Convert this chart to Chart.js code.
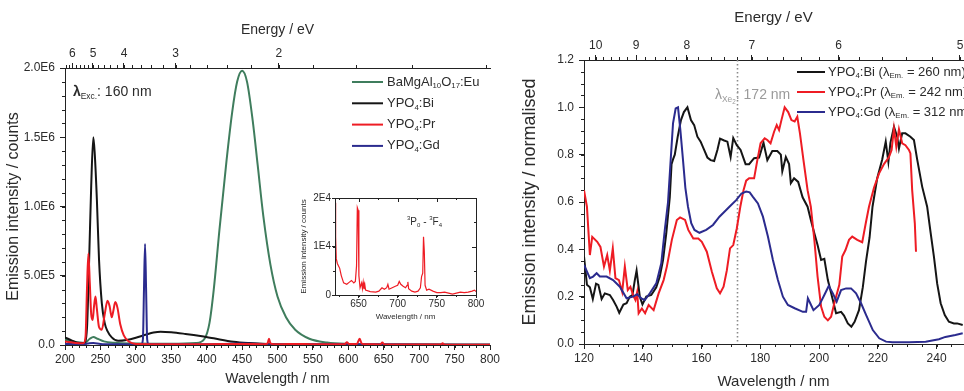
<!DOCTYPE html>
<html>
<head>
<meta charset="utf-8">
<title>YPO4 emission and excitation</title>
<script src="https://cdn.jsdelivr.net/npm/chart.js@4.4.1/dist/chart.umd.min.js"></script>
<style>
  body { margin: 0; background: #fff; }
  #wrap { position: relative; width: 964px; height: 391px; overflow: hidden; }
  canvas { position: absolute; }
</style>
</head>
<body>
<div id="wrap">
  <canvas id="emission" width="520" height="391" style="left:0;top:0"></canvas>
  <canvas id="inset" width="195" height="140" style="left:290px;top:185px"></canvas>
  <canvas id="excitation" width="469" height="391" style="left:495px;top:0"></canvas>
</div>
<script>
// photon energy (eV) <-> wavelength (nm)
const HC = 1239.84;

// ---- emission spectra, excitation at 160 nm (counts) ----
const bamWl  = [200, 215, 228, 235, 240, 246, 255, 270, 300, 350, 385, 397, 404, 410, 418, 428, 436, 443, 450, 457, 465, 472, 480, 490, 500, 512, 525, 545, 570, 600, 650, 700, 800];
const bamInt = [4.0e4, 2.0e4, 1.5e4, 4.5e4, 5.8e4, 4.5e4, 2.6e4, 1.6e4, 1.1e4, 9e3, 1.4e4, 4.5e4, 1.6e5, 4.0e5, 8.3e5, 1.33e6, 1.68e6, 1.90e6, 1.98e6, 1.90e6, 1.62e6, 1.30e6, 9.3e5, 5.8e5, 3.5e5, 2.0e5, 1.1e5, 4.5e4, 1.8e4, 8e3, 4e3, 3e3, 2e3];

const biWl  = [200, 210, 220, 227, 231, 234, 237, 240, 242, 245, 248, 252, 256, 260, 266, 275, 287, 300, 315, 325, 335, 350, 370, 391, 410, 438, 460, 485, 520, 600, 700, 800];
const biInt = [5.5e4, 3.2e4, 1.6e4, 1.5e4, 1.2e5, 6.0e5, 1.15e6, 1.50e6, 1.38e6, 1.05e6, 6.2e5, 3.0e5, 1.6e5, 1.0e5, 5.5e4, 3.0e4, 3.6e4, 5.2e4, 7.6e4, 9.0e4, 9.6e4, 9.2e4, 8.0e4, 6.5e4, 4.8e4, 2.4e4, 1.4e4, 7e3, 4e3, 2.5e3, 2e3, 1.5e3];

const prWl  = [200, 215, 226, 229, 231, 233, 235, 237, 239, 241, 243, 245, 248, 252, 256, 260, 263, 266, 268, 271, 274, 278, 283, 290, 300, 350, 400, 450, 480, 486, 488, 490, 500, 530, 550, 595, 598, 601, 612, 616, 619, 630, 645, 648, 651, 700, 731, 733, 736, 800];
const prInt = [2.5e4, 1.5e4, 1.2e4, 6e4, 4.0e5, 6.6e5, 4.5e5, 2.2e5, 1.8e5, 2.8e5, 3.5e5, 2.6e5, 1.3e5, 1.1e5, 2.2e5, 3.2e5, 2.8e5, 2.0e5, 2.4e5, 3.1e5, 2.7e5, 1.5e5, 7e4, 2.5e4, 8e3, 6e3, 6e3, 8e3, 6e3, 1.2e4, 4.5e4, 1.2e4, 5e3, 8e3, 5e3, 6e3, 2e4, 8e3, 8e3, 4.5e4, 1e4, 5e3, 4e3, 1.8e4, 4e3, 3e3, 4e3, 1.2e4, 2e3, 2e3];

const gdWl  = [200, 225, 232, 240, 250, 275, 300, 308, 310, 311.5, 313, 314.5, 316, 318, 330, 400, 450, 500, 598, 617, 800];
const gdInt = [8e3, 5e3, 1e4, 1.5e4, 8e3, 5e3, 4e3, 6e3, 4e4, 4e5, 7.3e5, 4e5, 4e4, 6e3, 5e3, 5e3, 1e4, 4e3, 8e3, 5e3, 2e3];

// YPO4:Pr, red/NIR part enlarged
const prRedWl  = [620, 620.8, 621.6, 623, 626, 628, 631, 635, 638, 641, 644, 646, 647.5, 648.5, 649.5, 650.5, 652, 654, 655, 656, 657, 658, 659, 665, 672, 676, 680, 683, 686, 687.5, 689, 693, 697, 700, 702, 704, 707, 710, 712, 713, 714, 718, 722, 726, 729, 730.5, 732, 733, 734, 735, 737, 740, 745, 750, 755, 760, 765, 770, 775, 780, 785, 790, 795, 798, 800];
const prRedInt = [1.9e4, 1.2e4, 7.5e3, 6.5e3, 5.5e3, 4e3, 2.5e3, 2.2e3, 2.6e3, 3e3, 2.5e3, 2.8e3, 6e3, 1.8e4, 1.75e4, 4e3, 1.5e3, 2.5e3, 1.3e3, 2.6e3, 1.2e3, 2.2e3, 1e3, 7e2, 6e2, 8e2, 1.5e3, 1.2e3, 1.5e3, 2.2e3, 1.2e3, 1.5e3, 1.8e3, 2e3, 2.8e3, 2.2e3, 1.8e3, 1.5e3, 2e3, 2.7e3, 1.3e3, 8e2, 6e2, 8e2, 1.5e3, 3.8e3, 4.5e3, 1.2e4, 9e3, 2e3, 1e3, 1.2e3, 8e2, 5e2, 5e2, 6e2, 4e2, 2e2, 4e2, 6e2, 5e2, 6e2, 8e2, 1e3, 7e2];

// ---- excitation spectra (normalised) ----
const biExWl  = [120, 121, 122, 123, 124.1, 124.9, 126, 127.1, 128.8, 129.9, 131.1, 132, 133.4, 134.5, 135.6, 136.5, 137.3, 137.9, 139, 139.9, 141.2, 142.9, 144.6, 145.8, 146.9, 148, 149.2, 149.8, 150.3, 150.9, 151.9, 153, 154, 155.2, 156.4, 157.5, 158.6, 159.7, 160.9, 162, 163.1, 164.3, 165.4, 166.3, 167.7, 168.8, 169.9, 170.8, 172, 173.3, 175, 176.2, 177.9, 179.6, 181.1, 182.4, 184.1, 185.8, 187, 187.5, 188.7, 189.8, 190.4, 191.5, 192.9, 194.4, 196.1, 197.3, 198.4, 199.5, 200.7, 201.8, 203, 204.7, 205.8, 207.5, 208.5, 209.8, 211, 212.1, 213.6, 214.9, 216, 217.2, 218.2, 219.8, 221.5, 222.7, 223.6, 224.3, 225.5, 226.6, 227.2, 228.3, 229.4, 231.1, 232.3, 233.4, 235.1, 236.8, 238, 239.1, 240.2, 241.4, 242.8, 244.2, 245.9, 247, 248.9];
const biExInt = [0.37, 0.25, 0.24, 0.19, 0.255, 0.25, 0.19, 0.214, 0.207, 0.186, 0.158, 0.132, 0.167, 0.172, 0.2, 0.207, 0.27, 0.31, 0.2, 0.167, 0.2, 0.207, 0.24, 0.285, 0.355, 0.467, 0.62, 0.76, 0.78, 0.80, 0.876, 0.946, 0.98, 1.0, 0.946, 0.925, 0.876, 0.855, 0.82, 0.788, 0.777, 0.773, 0.82, 0.868, 0.86, 0.855, 0.79, 0.87, 0.84, 0.82, 0.76, 0.76, 0.785, 0.788, 0.85, 0.777, 0.815, 0.815, 0.8, 0.73, 0.79, 0.76, 0.68, 0.70, 0.685, 0.62, 0.58, 0.52, 0.468, 0.418, 0.355, 0.36, 0.27, 0.186, 0.13, 0.136, 0.12, 0.087, 0.073, 0.094, 0.143, 0.24, 0.35, 0.45, 0.58, 0.70, 0.78, 0.855, 0.77, 0.85, 0.918, 0.876, 0.826, 0.89, 0.89, 0.876, 0.862, 0.78, 0.665, 0.58, 0.468, 0.369, 0.256, 0.172, 0.122, 0.094, 0.087, 0.087, 0.08];

const prExWl  = [120, 121, 122, 122.8, 124.5, 125.6, 126.8, 127.9, 128.8, 129.8, 130.7, 131.9, 133, 133.9, 134.9, 135.8, 136.7, 137.5, 138.1, 138.6, 139.7, 140.8, 142, 143.7, 145.4, 147.1, 148.2, 149.9, 151.6, 152.7, 154.4, 155.5, 157.2, 158.9, 160.1, 161.8, 163.5, 165.2, 166.3, 167.5, 168.6, 169.7, 170.8, 172, 173.2, 174.3, 175.2, 176.2, 177.9, 179, 180.1, 181.5, 182.4, 183.5, 184.7, 185.6, 186.4, 187.2, 188.3, 189.5, 190.6, 191.7, 192.6, 193.5, 194.7, 196.1, 197.2, 198.4, 199.5, 200.7, 201.8, 203, 204.1, 205.2, 206.9, 207.9, 209, 210.2, 211.3, 213, 214.7, 215.9, 217, 218.7, 220.4, 222.1, 223.8, 224.7, 225.5, 226.3, 227.2, 228.3, 229.4, 230.6, 231.1, 231.7, 232.6, 233];
const prExInt = [0.65, 0.58, 0.376, 0.453, 0.432, 0.41, 0.327, 0.376, 0.31, 0.404, 0.278, 0.27, 0.22, 0.327, 0.228, 0.242, 0.207, 0.186, 0.22, 0.13, 0.15, 0.13, 0.165, 0.143, 0.214, 0.27, 0.327, 0.44, 0.524, 0.535, 0.524, 0.482, 0.446, 0.446, 0.432, 0.39, 0.306, 0.235, 0.214, 0.242, 0.31, 0.404, 0.418, 0.488, 0.58, 0.65, 0.69, 0.70, 0.70, 0.777, 0.848, 0.869, 0.862, 0.848, 0.897, 0.925, 0.904, 0.946, 1.0, 0.98, 0.946, 0.94, 0.96, 0.89, 0.777, 0.65, 0.58, 0.44, 0.285, 0.158, 0.115, 0.10, 0.115, 0.172, 0.25, 0.37, 0.397, 0.44, 0.454, 0.44, 0.43, 0.51, 0.58, 0.66, 0.72, 0.76, 0.79, 0.82, 0.91, 0.834, 0.907, 0.848, 0.84, 0.82, 0.805, 0.65, 0.51, 0.39];

const gdExWl  = [120, 122, 123.1, 124.3, 125.4, 127.7, 129.9, 132.2, 134.5, 136.7, 138.1, 139.5, 140.7, 142.4, 144.6, 146.3, 147.5, 148.6, 149.5, 150.3, 151.2, 152, 152.8, 153.7, 154.5, 155.4, 156.5, 157.6, 159.3, 161.6, 163.9, 166.1, 168.4, 170.1, 171.8, 173.6, 175.2, 176.4, 177.5, 179.2, 180.9, 182.6, 184.3, 186, 187.7, 189.4, 191.7, 194.5, 195.6, 196.2, 197, 198.1, 200.1, 201.8, 203.3, 204.7, 206, 207.5, 209.2, 210.9, 212.6, 214.3, 216, 218.3, 220.5, 222.8, 225, 230.7, 236.3, 240.8, 243, 246.4, 248.9];
const gdExInt = [0.334, 0.278, 0.285, 0.299, 0.285, 0.285, 0.27, 0.242, 0.193, 0.2, 0.21, 0.193, 0.186, 0.214, 0.256, 0.341, 0.482, 0.60, 0.777, 0.932, 0.995, 1.0, 0.904, 0.777, 0.66, 0.58, 0.51, 0.482, 0.47, 0.482, 0.503, 0.538, 0.566, 0.587, 0.608, 0.636, 0.644, 0.641, 0.622, 0.594, 0.538, 0.454, 0.355, 0.27, 0.2, 0.165, 0.151, 0.136, 0.136, 0.193, 0.172, 0.143, 0.165, 0.207, 0.245, 0.214, 0.179, 0.228, 0.235, 0.235, 0.214, 0.172, 0.123, 0.059, 0.024, 0.01, 0.007, 0.007, 0.01, 0.02, 0.03, 0.038, 0.045];

// Xe2 excimer line
const xe2Line = 172;

// ---- axis ticks ----
const emWlTicks      = [200, 250, 300, 350, 400, 450, 500, 550, 600, 650, 700, 750, 800];
const emIntTicks     = [0, 5e5, 1e6, 1.5e6, 2e6];
const emEnergyTicks  = [6, 5, 4, 3, 2];
const insetWlTicks   = [650, 700, 750, 800];
const insetIntTicks  = [0, 1e4, 2e4];
const exWlTicks      = [120, 140, 160, 180, 200, 220, 240];
const exIntTicks     = [0, 0.2, 0.4, 0.6, 0.8, 1.0, 1.2];
const exEnergyTicks  = [10, 9, 8, 7, 6, 5];

const FONT = '"Liberation Sans", Arial, Helvetica, sans-serif';
const TXT = '#2b2b2b';
const AX = '#222';
const GREEN = '#3f7d5d';
const BLACK = '#151515';
const RED = '#ee1c24';
const BLUE = '#2b2b8e';

const pts = (xs, ys) => xs.map((x, i) => ({ x: x, y: ys[i] }));

function stepValues(min, max, step) {
  const out = [];
  for (let v = Math.ceil(min / step - 1e-9) * step; v <= max + 1e-9; v += step) out.push(v);
  return out;
}
function energyMinors(lo, hi) {
  const out = [];
  for (let e = lo; e <= hi + 1e-9; e += 0.2) out.push(HC / e);
  return out;
}

// rich text: plain, ['..','sub'], ['..','sup'], ['..','ss'] (sub of sub), ['..','b']
function richParts(p, size) {
  const t = Array.isArray(p) ? p[0] : p, k = Array.isArray(p) ? p[1] : '';
  let fs = size, dy = 0, w = '';
  if (k === 'sub') { fs = size * 0.6; dy = size * 0.32; }
  else if (k === 'sup') { fs = size * 0.6; dy = -size * 0.38; }
  else if (k === 'ss') { fs = size * 0.45; dy = size * 0.55; }
  else if (k === 'b') { w = 'bold '; }
  return { t: t, font: w + fs + 'px ' + FONT, dy: dy };
}
function richWidth(ctx, parts, size) {
  ctx.save();
  let w = 0;
  parts.forEach(p => { const r = richParts(p, size); ctx.font = r.font; w += ctx.measureText(r.t).width; });
  ctx.restore();
  return w;
}
function drawRich(ctx, x, y, parts, size, color) {
  ctx.save();
  ctx.fillStyle = color;
  ctx.textBaseline = 'middle';
  ctx.textAlign = 'left';
  let cx = x;
  parts.forEach(p => {
    const r = richParts(p, size);
    ctx.font = r.font;
    ctx.fillText(r.t, cx, y + r.dy);
    cx += ctx.measureText(r.t).width;
  });
  ctx.restore();
  return cx;
}
function seg(ctx, x0, y0, x1, y1) {
  ctx.beginPath(); ctx.moveTo(x0, y0); ctx.lineTo(x1, y1); ctx.stroke();
}

function axis(o) {
  return {
    type: 'linear', position: o.pos, min: o.min, max: o.max,
    afterBuildTicks: s => { s.ticks = o.ticks.map(v => ({ value: v })); },
    afterFit: s => {
      if (s.isHorizontal()) { s.height = o.size; s.paddingLeft = 0; s.paddingRight = 0; }
      else { s.width = o.size; s.paddingTop = 0; s.paddingBottom = 0; }
    },
    border: { color: AX, width: 1 },
    grid: { drawOnChartArea: false, tickLength: o.tick || 5, tickColor: AX, color: AX },
    ticks: {
      color: TXT, font: { family: FONT, size: o.fs || 12 }, padding: o.pad === undefined ? 2 : o.pad,
      maxRotation: 0, autoSkip: false, callback: o.fmt
    },
    title: {
      display: !!o.title, text: o.title, color: TXT,
      font: { family: FONT, size: o.tfs || 15 }, padding: o.tpad || 0
    }
  };
}

// short outward tick marks between the labelled ones
function minorTicks(list) {
  return {
    id: 'minorTicks',
    afterDraw(chart) {
      const ctx = chart.ctx, a = chart.chartArea;
      ctx.save();
      ctx.strokeStyle = AX;
      ctx.lineWidth = 1;
      list.forEach(m => {
        const s = chart.scales[m.id];
        const vals = m.values || stepValues(s.min, s.max, m.step);
        const len = m.len || 3;
        vals.forEach(v => {
          const p = s.getPixelForValue(v);
          if (s.isHorizontal()) {
            if (p < a.left - 0.5 || p > a.right + 0.5) return;
            const px = Math.round(p) + 0.5;
            if (s.position === 'top') seg(ctx, px, a.top, px, a.top - len);
            else seg(ctx, px, a.bottom, px, a.bottom + len);
            if (m.mirror) {
              if (s.position === 'top') seg(ctx, px, a.bottom, px, a.bottom - len);
              else seg(ctx, px, a.top, px, a.top + len);
            }
          } else {
            if (p < a.top - 0.5 || p > a.bottom + 0.5) return;
            const py = Math.round(p) + 0.5;
            seg(ctx, a.left, py, a.left - len, py);
            if (m.mirror) seg(ctx, a.right, py, a.right - len, py);
          }
        });
      });
      ctx.restore();
    }
  };
}

function line(label, xs, ys, color, order, width, smooth) {
  return {
    label: label, data: pts(xs, ys), borderColor: color, backgroundColor: color,
    borderWidth: width, pointRadius: 0, fill: false, order: order,
    tension: smooth ? 0.4 : 0, cubicInterpolationMode: smooth ? 'monotone' : 'default'
  };
}

const sci = v => {
  if (v === 0) return '0.0';
  const e = Math.floor(Math.log10(v) + 1e-9);
  return (v / Math.pow(10, e)).toFixed(1) + 'E' + e;
};

const base = {
  responsive: false, animation: false, events: [],
  plugins: { legend: { display: false }, tooltip: { enabled: false } }
};

// ---------- left: emission spectra ----------
const emissionDecor = {
  id: 'emissionDecor',
  afterDraw(chart) {
    const ctx = chart.ctx;
    const rows = [
      { c: GREEN, t: ['BaMgAl', ['10', 'sub'], 'O', ['17', 'sub'], ':Eu'] },
      { c: BLACK, t: ['YPO', ['4', 'sub'], ':Bi'] },
      { c: RED,   t: ['YPO', ['4', 'sub'], ':Pr'] },
      { c: BLUE,  t: ['YPO', ['4', 'sub'], ':Gd'] }
    ];
    ctx.save();
    ctx.lineWidth = 2;
    rows.forEach((r, i) => {
      const y = 82 + i * 21.3;
      ctx.strokeStyle = r.c;
      seg(ctx, 352, y, 383, y);
      drawRich(ctx, 387, y, r.t, 13, TXT);
    });
    ctx.restore();
    drawRich(ctx, 73, 92, [['λ', 'b'], ['Exc.', 'sub'], ': 160 nm'], 14, TXT);
  }
};

new Chart(document.getElementById('emission'), {
  type: 'line',
  data: {
    datasets: [
      line('BaMgAl10O17:Eu', bamWl, bamInt, GREEN, 3, 2, true),
      line('YPO4:Bi', biWl, biInt, BLACK, 2, 2, true),
      line('YPO4:Pr', prWl, prInt, RED, 0, 2, true),
      line('YPO4:Gd', gdWl, gdInt, BLUE, 1, 2, true)
    ]
  },
  options: Object.assign({}, base, {
    layout: { padding: { left: 0, right: 30, top: 0, bottom: 0 } },
    scales: {
      x: axis({ pos: 'bottom', min: 200, max: 800, ticks: emWlTicks, fmt: v => v, size: 46,
                title: 'Wavelength / nm', tfs: 14, tpad: { top: 0, bottom: 3 } }),
      x2: axis({ pos: 'top', min: 192, max: 1042, ticks: emEnergyTicks.map(e => HC / e),
                 fmt: v => String(Math.round(HC / v)), size: 68,
                 title: 'Energy / eV', tfs: 14, tpad: { top: 22, bottom: 0 } }),
      y: axis({ pos: 'left', min: 0, max: 2e6, ticks: emIntTicks, fmt: sci, size: 65, pad: 5,
                title: 'Emission intensity / counts', tfs: 16, tpad: { top: 4, bottom: 0 } })
    }
  }),
  plugins: [
    minorTicks([
      { id: 'x', step: 10 },
      { id: 'y', step: 1e5 },
      { id: 'x2', values: energyMinors(1.2, 6.4) }
    ]),
    emissionDecor
  ]
});

// ---------- inset: Pr emission 620-800 nm ----------
const insetDecor = {
  id: 'insetDecor',
  afterDraw(chart) {
    const ctx = chart.ctx, a = chart.chartArea;
    const sx = chart.scales.x, sy = chart.scales.y;
    ctx.save();
    ctx.strokeStyle = AX;
    ctx.lineWidth = 1;
    ctx.strokeRect(Math.round(a.left) + 0.5, Math.round(a.top) + 0.5,
                   Math.round(a.right - a.left), Math.round(a.bottom - a.top));
    insetWlTicks.forEach(v => { const px = Math.round(sx.getPixelForValue(v)) + 0.5; seg(ctx, px, a.top, px, a.top + 4); });
    insetIntTicks.forEach(v => { const py = Math.round(sy.getPixelForValue(v)) + 0.5; seg(ctx, a.right, py, a.right - 4, py); });
    ctx.restore();
    const lab = [['3', 'sup'], 'P', ['0', 'sub'], ' - ', ['3', 'sup'], 'F', ['4', 'sub']];
    const w = richWidth(ctx, lab, 10);
    drawRich(ctx, sx.getPixelForValue(733) - w / 2 + 1, sy.getPixelForValue(1.5e4), lab, 10, TXT);
  }
};

new Chart(document.getElementById('inset'), {
  type: 'line',
  data: { datasets: [line('YPO4:Pr', prRedWl, prRedInt, RED, 0, 1.2, false)] },
  options: Object.assign({}, base, {
    layout: { padding: { left: 0, right: 9, top: 13, bottom: 0 } },
    scales: {
      x: axis({ pos: 'bottom', min: 620, max: 800, ticks: insetWlTicks, fmt: v => v, size: 30,
                tick: 3, pad: 0, fs: 10, title: 'Wavelength / nm', tfs: 8, tpad: { top: 0, bottom: 3 } }),
      y: axis({ pos: 'left', min: 0, max: 2e4, ticks: insetIntTicks, fmt: v => v === 0 ? '0' : (v / 1e4) + 'E4',
                size: 45, tick: 3, pad: 1, fs: 10, title: 'Emission intensity / counts', tfs: 8, tpad: { top: 9, bottom: 0 } })
    }
  }),
  plugins: [
    minorTicks([
      { id: 'x', step: 25, len: 2, mirror: true },
      { id: 'y', step: 5e3, len: 2, mirror: true }
    ]),
    insetDecor
  ]
});

// ---------- right: excitation spectra ----------
const excitationDecor = {
  id: 'excitationDecor',
  beforeDatasetsDraw(chart) {
    const ctx = chart.ctx, a = chart.chartArea;
    const x = Math.round(chart.scales.x.getPixelForValue(xe2Line)) + 0.5;
    ctx.save();
    ctx.strokeStyle = '#8a8a8a';
    ctx.lineWidth = 1.6;
    ctx.setLineDash([1.6, 2.4]);
    seg(ctx, x, a.top, x, a.bottom);
    ctx.restore();
  },
  afterDraw(chart) {
    const ctx = chart.ctx, a = chart.chartArea;
    const x = chart.scales.x.getPixelForValue(xe2Line);
    const pre = ['λ', ['Xe', 'sub'], ['2', 'ss']];
    const w = richWidth(ctx, pre, 14);
    drawRich(ctx, x - w - 1, a.top + 35, pre.concat([': ' + xe2Line + ' nm']), 14, '#9a9a9a');

    const rows = [
      { c: BLACK, t: ['YPO', ['4', 'sub'], ':Bi (', 'λ', ['Em.', 'sub'], ' = 260 nm)'] },
      { c: RED,   t: ['YPO', ['4', 'sub'], ':Pr (', 'λ', ['Em.', 'sub'], ' = 242 nm)'] },
      { c: BLUE,  t: ['YPO', ['4', 'sub'], ':Gd (', 'λ', ['Em.', 'sub'], ' = 312 nm)'] }
    ];
    ctx.save();
    ctx.lineWidth = 2;
    rows.forEach((r, i) => {
      const y = 72 + i * 20;
      ctx.strokeStyle = r.c;
      seg(ctx, 302, y, 330, y);
      drawRich(ctx, 333, y, r.t, 13, TXT);
    });
    ctx.restore();
  }
};

new Chart(document.getElementById('excitation'), {
  type: 'line',
  data: {
    datasets: [
      line('YPO4:Bi', biExWl, biExInt, BLACK, 2, 2, false),
      line('YPO4:Pr', prExWl, prExInt, RED, 1, 2, false),
      line('YPO4:Gd', gdExWl, gdExInt, BLUE, 0, 2, false)
    ]
  },
  options: Object.assign({}, base, {
    layout: { padding: { left: 0, right: 1, top: 0, bottom: 0 } },
    scales: {
      x: axis({ pos: 'bottom', min: 120, max: 249, ticks: exWlTicks, fmt: v => v, size: 47,
                title: 'Wavelength / nm', tfs: 15, tpad: { top: 0, bottom: 0 } }),
      x2: axis({ pos: 'top', min: 120, max: 249, ticks: exEnergyTicks.map(e => HC / e),
                 fmt: v => String(Math.round(HC / v)), size: 60,
                 title: 'Energy / eV', tfs: 15, tpad: { top: 9, bottom: 0 } }),
      y: axis({ pos: 'left', min: 0, max: 1.2, ticks: exIntTicks, fmt: v => v.toFixed(1), size: 89, pad: 5,
                title: 'Emission intensity / normalised', tfs: 18, tpad: { top: 24, bottom: 0 } })
    }
  }),
  plugins: [
    minorTicks([
      { id: 'x', step: 5 },
      { id: 'y', step: 0.05 },
      { id: 'x2', values: energyMinors(4.8, 10.6) }
    ]),
    excitationDecor
  ]
});
</script>
</body>
</html>
